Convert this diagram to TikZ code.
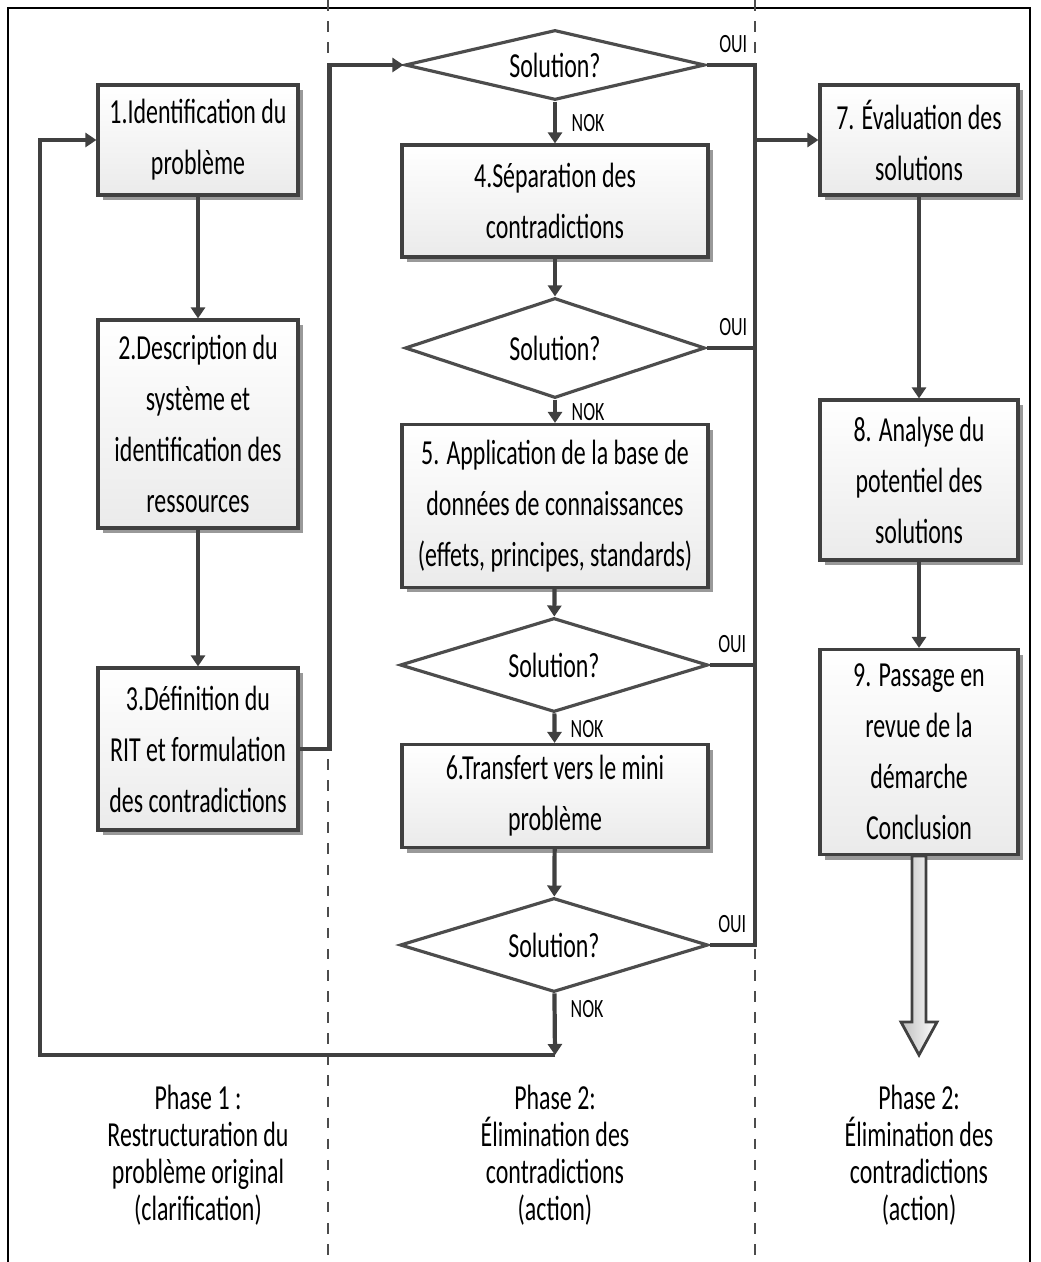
\documentclass[tikz,border=0pt]{standalone}
\usepackage{fontspec}
\usepackage{tikz}
\usetikzlibrary{positioning,shapes.geometric,shadows,arrows.meta}
\newfontfamily\boxfont[FakeStretch=0.68]{Carlito}

\begin{document}
\begin{tikzpicture}[x=0.1cm,y=0.1cm,
  box/.style={draw=black!75, line width=0.9pt, top color=white, bottom color=black!8,
    drop shadow={shadow xshift=0.5mm, shadow yshift=-0.5mm, fill=black!40, opacity=1},
    align=center, inner sep=0pt, font=\boxfont\fontsize{10}{14.5}\selectfont},
  test/.style={diamond, draw=black!70, line width=0.9pt, fill=white, inner sep=0pt,
    font=\boxfont\fontsize{10}{12}\selectfont},
  flow/.style={draw=black!75, line width=1.2pt, -{Triangle[length=1.1mm,width=1.4mm]}},
  line/.style={draw=black!75, line width=1.2pt},
  lab/.style={inner sep=0pt, font=\boxfont\fontsize{7.5}{8}\selectfont},
  phase/.style={align=center, font=\boxfont\fontsize{10}{10.5}\selectfont}]
\useasboundingbox (0,0) rectangle (104,-126.2);
% frame and phase separators
\draw [line width=0.8pt] (0.8,-126.2) -- (0.8,-0.8) -- (103,-0.8) -- (103,-126.2);
\draw [dashed, black!70, line width=0.6pt] (32.8,0) -- (32.8,-126.2);
\draw [dashed, black!70, line width=0.6pt] (75.5,0) -- (75.5,-126.2);
% phase 1
\node [box, minimum width=2cm, minimum height=1.1cm] (b1) at (19.8,-14) {1.Identification du\\problème};
\node [box, minimum width=2cm, minimum height=2.08cm] (b2) at (19.8,-42.4) {2.Description du\\système et\\identification des\\ressources};
\node [box, minimum width=2cm, minimum height=1.62cm] (b3) at (19.8,-74.9) {3.Définition du\\RIT et formulation\\des contradictions};
% phase 2
\node [test, shape aspect=4.3, minimum width=3cm, minimum height=0.7cm] (d1) at (55.5,-6.5) {Solution?};
\node [box, minimum width=3.06cm, minimum height=1.12cm] (b4) at (55.5,-20.1) {4.Séparation des\\contradictions};
\node [test, shape aspect=3, minimum width=3cm, minimum height=1cm] (d2) at (55.5,-34.8) {Solution?};
\node [box, minimum width=3.06cm, minimum height=1.63cm] (b5) at (55.5,-50.6) {5. Application de la base de\\données de connaissances\\(effets, principes, standards)};
\node [test, shape aspect=3.2, minimum width=3.08cm, minimum height=0.94cm] (d3) at (55.4,-66.5) {Solution?};
\node [box, minimum width=3.06cm, minimum height=1.03cm] (b6) at (55.5,-79.6) {6.Transfert vers le mini\\problème};
\node [test, shape aspect=3.2, minimum width=3.08cm, minimum height=0.94cm] (d4) at (55.4,-94.5) {Solution?};
% phase 3
\node [box, minimum width=1.98cm, minimum height=1.1cm] (b7) at (91.9,-14) {7. Évaluation des\\solutions};
\node [box, minimum width=1.98cm, minimum height=1.6cm] (b8) at (91.9,-48) {8. Analyse du\\potentiel des\\solutions};
\node [box, minimum width=1.98cm, minimum height=2.05cm] (b9) at (91.9,-75.2) {9. Passage en\\revue de la\\démarche\\Conclusion};
% free ends
\coordinate (loop1) at (55.5,-105.5);
\coordinate (loop2) at (4,-105.5);
\coordinate (bus) at (75.5,-94.5);
\coordinate (fin3) at (91.9,-105.5);
% links
\draw [flow] (b1) -- (b2);
\draw [flow] (b2) -- (b3);
\draw [flow] (b3.east) -- ++(3,0) |- (d1.west);
\draw [flow] (d1) -- (b4);
\draw [flow] (b4) -- (d2);
\draw [flow] (d2) -- (b5);
\draw [flow] (b5) -- (d3);
\draw [flow] (d3) -- (b6);
\draw [flow] (b6) -- (d4);
\draw [flow] (d4) -- (loop1);
\draw [flow] (loop1) -- (loop2) |- (b1.west);
\draw [line] (d1.east) -| (bus) -- (d4.east);
\draw [line] (d2.east) -- (d2.east -| bus);
\draw [line] (d3.east) -- (d3.east -| bus);
\draw [flow] (b7.west -| bus) -- (b7.west);
\draw [flow] (b7) -- (b8);
\draw [flow] (b8) -- (b9);
\draw [draw=black!75, line width=0.8pt, left color=black!25, right color=white]
  ([xshift=-0.7mm]b9.south) -- ([xshift=-0.7mm,yshift=3.3mm]fin3) -- ([xshift=-1.8mm,yshift=3.3mm]fin3)
  -- (fin3) -- ([xshift=1.8mm,yshift=3.3mm]fin3) -- ([xshift=0.7mm,yshift=3.3mm]fin3)
  -- ([xshift=0.7mm]b9.south) -- cycle;
% answers
\node [lab, above right=1.2mm and 1.2mm of d1.east] (oui1) {OUI};
\node [lab, above right=1.2mm and 1.2mm of d2.east] (oui2) {OUI};
\node [lab, above right=1.2mm and 0.8mm of d3.east] (oui3) {OUI};
\node [lab, above right=1.2mm and 0.8mm of d4.east] (oui4) {OUI};
\node [lab, below right=1.2mm and 1.6mm of d1.south] (nok1) {NOK};
\node [lab, below right=0.3mm and 1.6mm of d2.south] (nok2) {NOK};
\node [lab, below right=0.6mm and 1.6mm of d3.south] (nok3) {NOK};
\node [lab, below right=0.6mm and 1.6mm of d4.south] (nok4) {NOK};
% phase names
\node [phase] (p1) at (19.8,-115.5) {Phase 1 :\\Restructuration du\\problème original\\(clarification)};
\node [phase] (p2) at (55.5,-115.5) {Phase 2:\\Élimination des\\contradictions\\(action)};
\node [phase] (p3) at (91.9,-115.5) {Phase 2:\\Élimination des\\contradictions\\(action)};
\end{tikzpicture}
\end{document}
